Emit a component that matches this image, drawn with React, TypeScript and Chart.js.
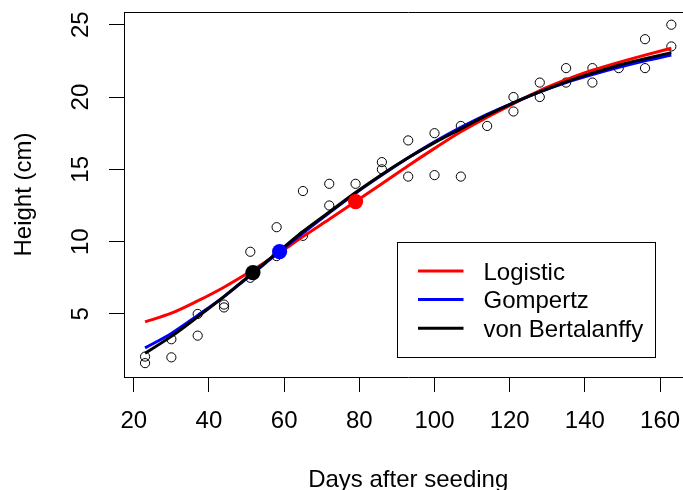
import { useEffect, useRef } from "react";
import { Chart, registerables } from "chart.js";

Chart.register(...registerables);

// ---- data ----
const CURVE_DAYS = [23, 30, 37, 44, 51, 58, 65, 72, 79, 86, 93, 100, 107, 114, 121, 128, 135, 142, 149, 156, 163];
const LOGISTIC = [4.45, 5.05, 5.9, 6.85, 7.93, 9.1, 10.35, 11.55, 12.77, 14.0, 15.25, 16.45, 17.6, 18.6, 19.55, 20.45, 21.2, 21.85, 22.4, 22.9, 23.37];
const GOMPERTZ = [2.65, 3.65, 4.9, 6.2, 7.65, 9.15, 10.6, 12.0, 13.35, 14.6, 15.8, 16.9, 17.9, 18.8, 19.6, 20.35, 21.0, 21.55, 22.05, 22.5, 22.9];
const VON_BERTALANFFY = [2.28, 3.45, 4.8, 6.2, 7.7, 9.2, 10.7, 12.05, 13.4, 14.65, 15.8, 16.85, 17.8, 18.75, 19.6, 20.35, 21.05, 21.65, 22.2, 22.65, 23.07];

const OBS_DAYS = [23, 23, 30, 30, 37, 37, 44, 44, 51, 51, 58, 58, 65, 65, 72, 72, 79, 86, 86, 93, 93, 100, 100, 107, 107, 114, 121, 121, 128, 128, 135, 135, 142, 142, 149, 156, 156, 163, 163];
const OBS_HEIGHT = [2.05, 1.6, 3.25, 2.0, 5.0, 3.5, 5.65, 5.45, 9.3, 7.5, 11.0, 9.0, 13.5, 10.4, 14.0, 12.5, 14.0, 15.5, 15.0, 17.0, 14.5, 17.5, 14.6, 18.0, 14.5, 18.0, 20.0, 19.0, 21.0, 20.0, 22.0, 21.0, 22.0, 21.0, 22.0, 24.0, 22.0, 25.0, 23.5];

const INFL_DAYS = [79.0, 58.8, 51.7];
const INFL_HEIGHT = [12.77, 9.31, 7.86];

const MODEL_NAMES = ["Logistic", "Gompertz", "von Bertalanffy"];
const MODEL_COLORS = ["#FF0000", "#0000FF", "#000000"];

const X_TICKS = [20, 40, 60, 80, 100, 120, 140, 160];
const Y_TICKS = [5, 10, 15, 20, 25];

const X_TITLE = "Days after seeding";
const Y_TITLE = "Height (cm)";

const FONT_FAMILY = "'Liberation Sans', Arial, Helvetica, sans-serif";
const FONT_SIZE = 24;

const toPoints = (xs: number[], ys: number[]) => xs.map((x, i) => ({ x, y: ys[i] }));

const boxLegendPlugin = {
  id: "boxLegend",
  afterDraw(chart: any) {
    const { ctx, chartArea: a } = chart;
    ctx.save();
    ctx.strokeStyle = "#000";
    ctx.lineWidth = 1;
    const l = Math.round(a.left) + 0.5;
    const t = Math.round(a.top) + 0.5;
    const r = Math.round(a.right) + 0.5;
    const b = Math.round(a.bottom) + 0.5;
    ctx.beginPath();
    ctx.moveTo(l, b);
    ctx.lineTo(l, t);
    ctx.lineTo(r, t);
    ctx.lineTo(r, b);
    ctx.stroke();

    // legend
    const bx = 397.5, by = 242.5, bw = 258, bh = 115;
    ctx.strokeRect(bx, by, bw, bh);
    const rows = [271, 299.5, 328.3];
    ctx.font = `${FONT_SIZE}px ${FONT_FAMILY}`;
    ctx.textBaseline = "alphabetic";
    ctx.textAlign = "left";
    MODEL_NAMES.forEach((name, i) => {
      ctx.strokeStyle = MODEL_COLORS[i];
      ctx.lineWidth = 3;
      ctx.beginPath();
      ctx.moveTo(418, rows[i]);
      ctx.lineTo(463.5, rows[i]);
      ctx.stroke();
      ctx.fillStyle = "#000";
      ctx.fillText(name, 483.5, rows[i] + 8.6);
    });
    ctx.restore();
  },
};

export default function App() {
  const ref = useRef<HTMLCanvasElement | null>(null);

  useEffect(() => {
    if (!ref.current) return;
    const font = { family: FONT_FAMILY, size: FONT_SIZE };
    const lineDs = (label: string, ys: number[], color: string, order: number) => ({
      label,
      data: toPoints(CURVE_DAYS, ys),
      showLine: true,
      borderColor: color,
      backgroundColor: color,
      borderWidth: 3,
      pointRadius: 0,
      cubicInterpolationMode: "monotone",
      order,
    });
    const chart = new Chart(ref.current, {
      type: "scatter",
      data: {
        datasets: [
          {
            label: "Inflection",
            data: toPoints(INFL_DAYS, INFL_HEIGHT),
            pointRadius: 7.6,
            pointBackgroundColor: MODEL_COLORS,
            pointBorderColor: MODEL_COLORS,
            pointBorderWidth: 0,
            order: 0,
          } as any,
          lineDs(MODEL_NAMES[2], VON_BERTALANFFY, MODEL_COLORS[2], 1),
          lineDs(MODEL_NAMES[1], GOMPERTZ, MODEL_COLORS[1], 2),
          lineDs(MODEL_NAMES[0], LOGISTIC, MODEL_COLORS[0], 3),
          {
            label: "Observed",
            data: toPoints(OBS_DAYS, OBS_HEIGHT),
            pointRadius: 4.6,
            pointBorderWidth: 1,
            pointBorderColor: "#000",
            pointBackgroundColor: "rgba(0,0,0,0)",
            order: 4,
          } as any,
        ],
      },
      options: {
        animation: false,
        responsive: false,
        devicePixelRatio: 1,
        events: [],
        layout: { padding: { left: 0, top: 12, right: 6.3, bottom: 0 } },
        plugins: { legend: { display: false }, tooltip: { enabled: false } },
        scales: {
          x: {
            type: "linear",
            position: "bottom",
            min: 17.4,
            max: 168.6,
            afterBuildTicks: (s: any) => {
              s.ticks = X_TICKS.map((v) => ({ value: v }));
            },
            afterFit: (s: any) => {
              s.height = 123;
              s.paddingLeft = 0;
              s.paddingRight = 0;
            },
            grid: { drawOnChartArea: false, drawTicks: true, tickLength: 15, color: "#000", lineWidth: 1 },
            border: { display: true, color: "#000", width: 1 },
            ticks: {
              font,
              color: "#000",
              padding: 14.5,
              maxRotation: 0,
              minRotation: 0,
              autoSkip: false,
              callback: (v: any) => String(v),
            },
            title: { display: true, text: X_TITLE, font, color: "#000", padding: { top: 0, bottom: 5.7 } },
          },
          y: {
            type: "linear",
            position: "left",
            min: 0.64,
            max: 25.88,
            afterBuildTicks: (s: any) => {
              s.ticks = Y_TICKS.map((v) => ({ value: v }));
            },
            afterFit: (s: any) => {
              s.width = 124;
              s.paddingTop = 0;
              s.paddingBottom = 0;
            },
            grid: { drawOnChartArea: false, drawTicks: true, tickLength: 15, color: "#000", lineWidth: 1 },
            border: { display: true, color: "#000", width: 1 },
            ticks: {
              font,
              color: "#000",
              padding: 14.0,
              minRotation: 90,
              maxRotation: 90,
              crossAlign: "center",
              autoSkip: false,
              callback: (v: any) => String(v),
            },
            title: { display: true, text: Y_TITLE, font, color: "#000", padding: { top: 9.6, bottom: 0 } },
          },
        },
      } as any,
      plugins: [boxLegendPlugin],
    });
    return () => chart.destroy();
  }, []);

  return (
    <div style={{ position: "absolute", left: 0, top: 0, width: 683, height: 490, overflow: "hidden", background: "#fff" }}>
      <canvas ref={ref} width={700} height={500} style={{ width: 700, height: 500, display: "block" }} />
    </div>
  );
}
